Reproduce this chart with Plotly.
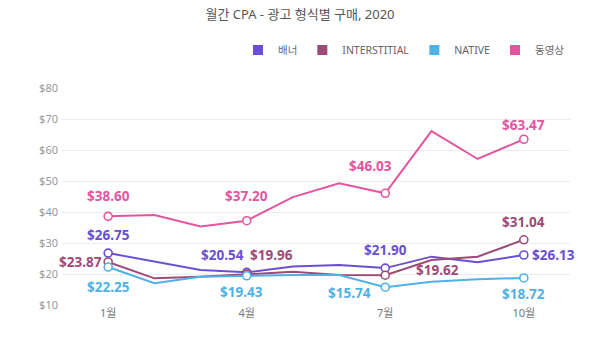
import plotly.graph_objects as go

months = [1, 2, 3, 4, 5, 6, 7, 8, 9, 10]
tick_vals = [1, 4, 7, 10]
tick_text = ["1월", "4월", "7월", "10월"]
y_ticks = [10, 20, 30, 40, 50, 60, 70, 80]

series_names = ["배너", "INTERSTITIAL", "NATIVE", "동영상"]
banner = [26.75, 24.0, 21.3, 20.54, 22.4, 22.9, 21.90, 25.6, 23.8, 26.13]
interstitial = [23.87, 18.6, 19.1, 19.96, 20.7, 19.7, 19.62, 24.5, 25.6, 31.04]
native = [22.25, 17.0, 19.1, 19.43, 19.7, 19.7, 15.74, 17.5, 18.3, 18.72]
video = [38.60, 39.0, 35.3, 37.20, 44.8, 49.3, 46.03, 66.1, 57.1, 63.47]

colors = ["#6b4fd3", "#9e4a76", "#4fb1e6", "#e2559f"]
label_months = [1, 4, 7, 10]

# label offsets (pixels) per series, per labelled month
offsets = {
    "배너": [(0, 18), (-24, 17), (0, 18), (30, 0)],
    "INTERSTITIAL": [(-28, 0), (25, 19), (52, 5), (0, 18)],
    "NATIVE": [(0, -20), (-5, -16), (-36, -6), (0, -16)],
    "동영상": [(0, 20), (0, 25), (-15, 27), (0, 14)],
}

font_family = "Noto Sans, Noto Sans CJK KR, sans-serif"

fig = go.Figure()
data = [banner, interstitial, native, video]

for name, vals, col in zip(series_names, data, colors):
    fig.add_trace(go.Scatter(
        x=months, y=vals, mode="lines", line=dict(color=col, width=2),
        showlegend=False, hoverinfo="skip"))
    lx = [m for m in label_months]
    ly = [vals[months.index(m)] for m in label_months]
    fig.add_trace(go.Scatter(
        x=lx, y=ly, mode="markers",
        marker=dict(symbol="circle", size=8, color="white",
                    line=dict(color=col, width=1.6)),
        showlegend=False, hoverinfo="skip"))
    for (m, v, (dx, dy)) in zip(lx, ly, offsets[name]):
        fig.add_annotation(x=m, y=v, text=f"${v:.2f}", showarrow=False,
                           xshift=dx, yshift=dy,
                           font=dict(family=font_family, size=13.5, color=col,
                                     weight="bold"))

for name, col in zip(series_names, colors):
    fig.add_trace(go.Scatter(
        x=[None], y=[None], mode="markers", name=name,
        marker=dict(symbol="square", size=10, color=col)))

fig.update_layout(
    width=600, height=337,
    margin=dict(l=62, r=30, t=88, b=32),
    paper_bgcolor="white", plot_bgcolor="white",
    font=dict(family=font_family, color="#888"),
    title=dict(text="월간 CPA - 광고 형식별 구매, 2020",
               x=0.5, xanchor="center", y=1 - 14 / 337, yanchor="middle",
               font=dict(family=font_family, size=13, color="#555")),
    legend=dict(orientation="h", x=1.0, xanchor="right",
                y=1.175, yanchor="middle",
                font=dict(family=font_family, size=10.5, color="#666"),
                itemwidth=30, tracegroupgap=0),
    xaxis=dict(range=[0, 11], tickvals=tick_vals, ticktext=tick_text,
               showgrid=False, zeroline=False, showline=False,
               tickfont=dict(size=11, color="#777")),
    yaxis=dict(range=[10, 80], tickvals=y_ticks,
               ticktext=[f"${v}" for v in y_ticks],
               showgrid=True, gridcolor="#ececec", gridwidth=1,
               zeroline=False, showline=False, ticklabelstandoff=3,
               tickfont=dict(size=11, color="#999")),
    showlegend=True,
)

fig.write_html("out.html")
